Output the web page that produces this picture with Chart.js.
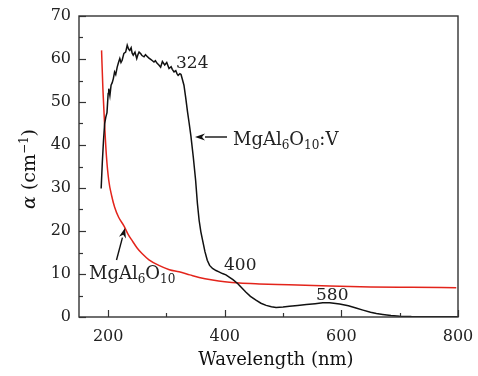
<!DOCTYPE html>
<html><head><meta charset="utf-8">
<script src="https://cdn.jsdelivr.net/npm/chart.js@4/dist/chart.umd.min.js"></script>
<style>html,body{margin:0;padding:0;background:#fff}#wrap{width:478px;height:376px}</style>
</head><body><div id="wrap"><canvas id="c" width="478" height="376"></canvas></div>
<script>
const xTicks = [200, 400, 600, 800];
const yTicks = [0, 10, 20, 30, 40, 50, 60, 70];

const vWavelength = [188,190,192,194,196,198,200,201,203,205,207,209,211,213,215.5,218,220,222,224,227,230,232.7,235,237,239.4,241,243,246,249,251,253,256,258,261.5,264,267,270,273,276,278.6,281,284,287,290,293,297,300.5,304.4,308,310,313,316,318,320,323,325,327,330,333,336,339,342,346,350,353,356,359,362,366,370,374,379,385,390,396,402,407.6,414,422,429,436,444,453.5,462,471,480,488,500,511,525,540,555,568,580,597,612,625,637,650,660,671,685,700,720,750,780,800];
const vAlpha = [29.9,36,41,45,46.5,47.5,52,53.1,51.5,53.9,54.5,55.5,57,56.4,58.1,59.3,60.1,59.2,59.7,61.3,61.6,63.2,62.3,62.0,62.6,61.4,60.9,61.6,60.1,61.0,61.6,61.2,60.8,60.5,61.0,60.6,60.2,59.9,59.6,59.3,59.6,59.0,58.6,58.1,59.4,58.6,59.2,57.8,58.2,57.6,57.0,57.3,56.6,56.2,56.6,56.4,55.4,53.9,51.0,47.8,45.0,42.0,37.2,31.8,26.5,22.5,19.8,17.8,15.2,13.2,12.0,11.3,10.8,10.5,10.1,9.8,9.3,8.7,7.8,6.8,5.8,4.8,3.9,3.2,2.7,2.4,2.2,2.3,2.5,2.7,2.9,3.1,3.3,3.3,3.0,2.6,2.1,1.6,1.1,0.8,0.6,0.35,0.2,0.1,0.05,0.05,0.05];

const baseWavelength = [188.7,191,194,197,201,206,211,218,227,234,241,250,258.5,270,287,305,321.6,340,356,379,400,425,459,510,580,650,720,797];
const baseAlpha = [62,53,44.5,37.5,31.8,28.2,25.6,23.2,21.2,19.3,17.8,16.0,14.7,13.3,12.0,11.0,10.5,9.8,9.2,8.6,8.2,7.9,7.7,7.5,7.2,7.0,6.9,6.8];

const SERIF = '"DejaVu Serif", serif';
const TXT = '#222';

function pts(xs, ys) { return xs.map((x, i) => ({ x: x, y: ys[i] })); }

function drawChem(ctx, x, y, parts, big, small) {
  let cx = x;
  for (const [t, sub] of parts) {
    ctx.font = (sub ? small : big) + 'px ' + SERIF;
    ctx.fillText(t, cx, sub ? y + 4 : y);
    cx += ctx.measureText(t).width;
  }
}

function arrow(ctx, x1, y1, x2, y2) {
  const ang = Math.atan2(y2 - y1, x2 - x1);
  const hl = 10, hw = 3.6;
  const bx = x2 - hl * Math.cos(ang), by = y2 - hl * Math.sin(ang);
  ctx.beginPath();
  ctx.moveTo(x1, y1);
  ctx.lineTo(bx, by);
  ctx.lineWidth = 1.4;
  ctx.strokeStyle = '#111';
  ctx.stroke();
  ctx.beginPath();
  ctx.moveTo(x2, y2);
  ctx.lineTo(bx + hw * Math.sin(ang), by - hw * Math.cos(ang));
  ctx.lineTo(bx + 3 * Math.cos(ang), by + 3 * Math.sin(ang));
  ctx.lineTo(bx - hw * Math.sin(ang), by + hw * Math.cos(ang));
  ctx.closePath();
  ctx.fillStyle = '#111';
  ctx.fill();
}

const decor = {
  id: 'decor',
  afterDatasetsDraw(chart) {
    const ctx = chart.ctx;
    const a = chart.chartArea;
    const xs = chart.scales.x, ys = chart.scales.y;
    ctx.save();
    ctx.strokeStyle = '#333';
    ctx.lineWidth = 1.4;
    ctx.strokeRect(a.left, a.top, a.right - a.left, a.bottom - a.top);
    ctx.lineWidth = 1.2;
    for (let v = 200; v <= 800; v += 100) {
      const px = Math.round(xs.getPixelForValue(v)) + 0.5;
      const len = (v % 200 === 0) ? 7 : 4;
      ctx.beginPath(); ctx.moveTo(px, a.bottom); ctx.lineTo(px, a.bottom - len); ctx.stroke();
    }
    for (let v = 0; v <= 70; v += 5) {
      const py = Math.round(ys.getPixelForValue(v)) + 0.5;
      const len = (v % 10 === 0) ? 7 : 4;
      ctx.beginPath(); ctx.moveTo(a.left, py); ctx.lineTo(a.left + len, py); ctx.stroke();
    }
    ctx.fillStyle = TXT;
    ctx.textBaseline = 'alphabetic';
    ctx.textAlign = 'left';
    ctx.font = '17px ' + SERIF;
    ctx.fillText('324', 176, 68);
    ctx.fillText('400', 224, 270);
    ctx.fillText('580', 316, 300);
    drawChem(ctx, 233, 145, [['MgAl', false], ['6', true], ['O', false], ['10', true], [':V', false]], 18, 12);
    drawChem(ctx, 89, 279, [['MgAl', false], ['6', true], ['O', false], ['10', true]], 18, 12);
    arrow(ctx, 227, 137, 195, 137);
    arrow(ctx, 116.5, 260, 125, 228);
    ctx.font = '18px ' + SERIF;
    ctx.textAlign = 'center';
    ctx.fillText('Wavelength (nm)', 276, 365);
    ctx.translate(35, 169);
    ctx.rotate(-Math.PI / 2);
    const parts = [['\u03b1', 'italic 19px ' + SERIF, 0], [' (cm', '19px ' + SERIF, 0], ['\u22121', '12px ' + SERIF, -7], [')', '19px ' + SERIF, 0]];
    let tw = 0;
    for (const p of parts) { ctx.font = p[1]; tw += ctx.measureText(p[0]).width; }
    let cx = -tw / 2;
    ctx.textAlign = 'left';
    for (const p of parts) { ctx.font = p[1]; ctx.fillText(p[0], cx, p[2]); cx += ctx.measureText(p[0]).width; }
    ctx.restore();
  }
};

new Chart(document.getElementById('c'), {
  type: 'line',
  data: {
    datasets: [
      { label: 'MgAl6O10:V', data: pts(vWavelength, vAlpha), borderColor: '#111', borderWidth: 1.5, pointRadius: 0, tension: 0, fill: false },
      { label: 'MgAl6O10', data: pts(baseWavelength, baseAlpha), borderColor: '#e3241b', borderWidth: 1.5, pointRadius: 0, cubicInterpolationMode: 'monotone', fill: false }
    ]
  },
  options: {
    responsive: false,
    animation: false,
    events: [],
    layout: { padding: { top: 16, right: 20, left: 0, bottom: 0 } },
    plugins: { legend: { display: false }, tooltip: { enabled: false } },
    scales: {
      x: {
        type: 'linear', min: 150, max: 800,
        afterBuildTicks: s => { s.ticks = xTicks.map(v => ({ value: v })); },
        afterFit: s => { s.height = 59; s.paddingLeft = 0; s.paddingRight = 0; },
        grid: { display: false, drawTicks: false },
        border: { display: false },
        ticks: { font: { family: SERIF, size: 16 }, color: TXT, padding: 10, maxRotation: 0 }
      },
      y: {
        type: 'linear', min: 0, max: 70,
        afterBuildTicks: s => { s.ticks = yTicks.map(v => ({ value: v })); },
        afterFit: s => { s.width = 79; s.paddingTop = 0; s.paddingBottom = 0; },
        grid: { display: false, drawTicks: false },
        border: { display: false },
        ticks: { font: { family: SERIF, size: 16 }, color: TXT, padding: 8 }
      }
    }
  },
  plugins: [decor]
});
</script></body></html>
